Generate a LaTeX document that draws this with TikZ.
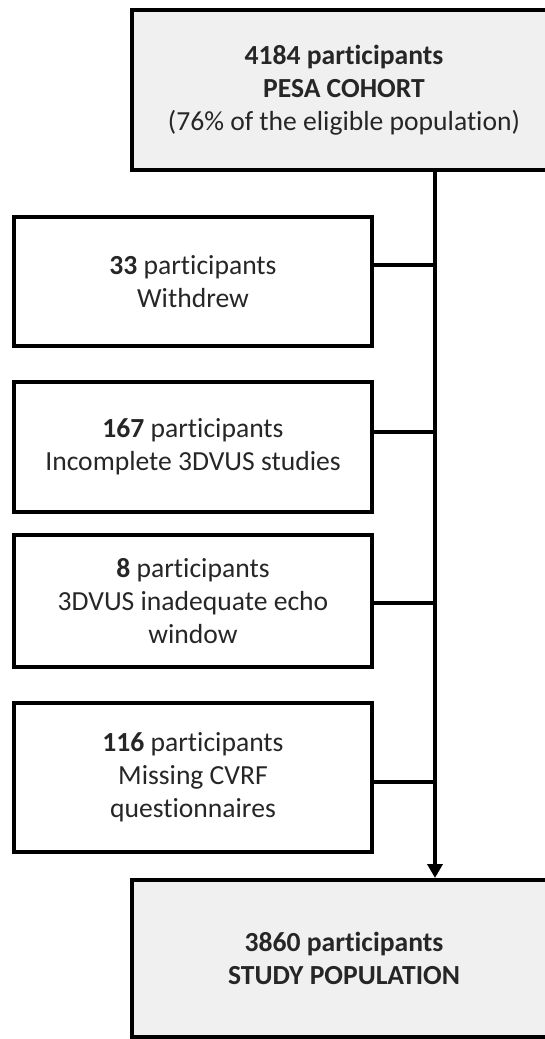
\documentclass[tikz,border=0pt]{standalone}
\usepackage{fontspec}
\setmainfont{Carlito}[Ligatures=NoCommon]
\usetikzlibrary{arrows.meta}

\begin{document}
\begin{tikzpicture}[x=1pt, y=-1pt, line width=4pt,
        every node/.style={draw, line width=4pt, align=center, text=black!85,
            font=\fontsize{27.6}{33}\selectfont},
        excl/.style={minimum width=358pt},
        mainbox/.style={fill=black!6, minimum width=424pt}]
            \useasboundingbox (0,0) rectangle (545,1039);
            \node[mainbox, minimum height=160pt] (cohort) at (344,90)
                {\textbf{4184 participants}\\\textbf{PESA COHORT}\\(76\% of the eligible population)};
            \node[excl, minimum height=129pt] (e1) at (193,281.5) {\textbf{33} participants\\Withdrew};
            \node[excl, minimum height=130pt] (e2) at (193,447) {\textbf{167} participants\\Incomplete 3DVUS studies};
            \node[excl, minimum height=132pt] (e3) at (193,601) {\textbf{8} participants\\3DVUS inadequate echo\\window};
            \node[excl, minimum height=149pt] (e4) at (193,777.5) {\textbf{116} participants\\Missing CVRF\\questionnaires};
            \node[mainbox, minimum height=157pt] (study) at (344,958.5)
                {\textbf{3860 participants}\\\textbf{STUDY POPULATION}};
            \coordinate (j1) at (435,265);
            \coordinate (j2) at (435,432);
            \coordinate (j3) at (435,603);
            \coordinate (j4) at (435,782);
            \draw[-{Triangle[length=14pt,width=15pt]}] (cohort.south -| j1) -- (study.north -| j1);
            \draw (e1.east |- j1) -- (j1);
            \draw (e2.east |- j2) -- (j2);
            \draw (e3.east |- j3) -- (j3);
            \draw (e4.east |- j4) -- (j4);
        \end{tikzpicture}
\end{document}
